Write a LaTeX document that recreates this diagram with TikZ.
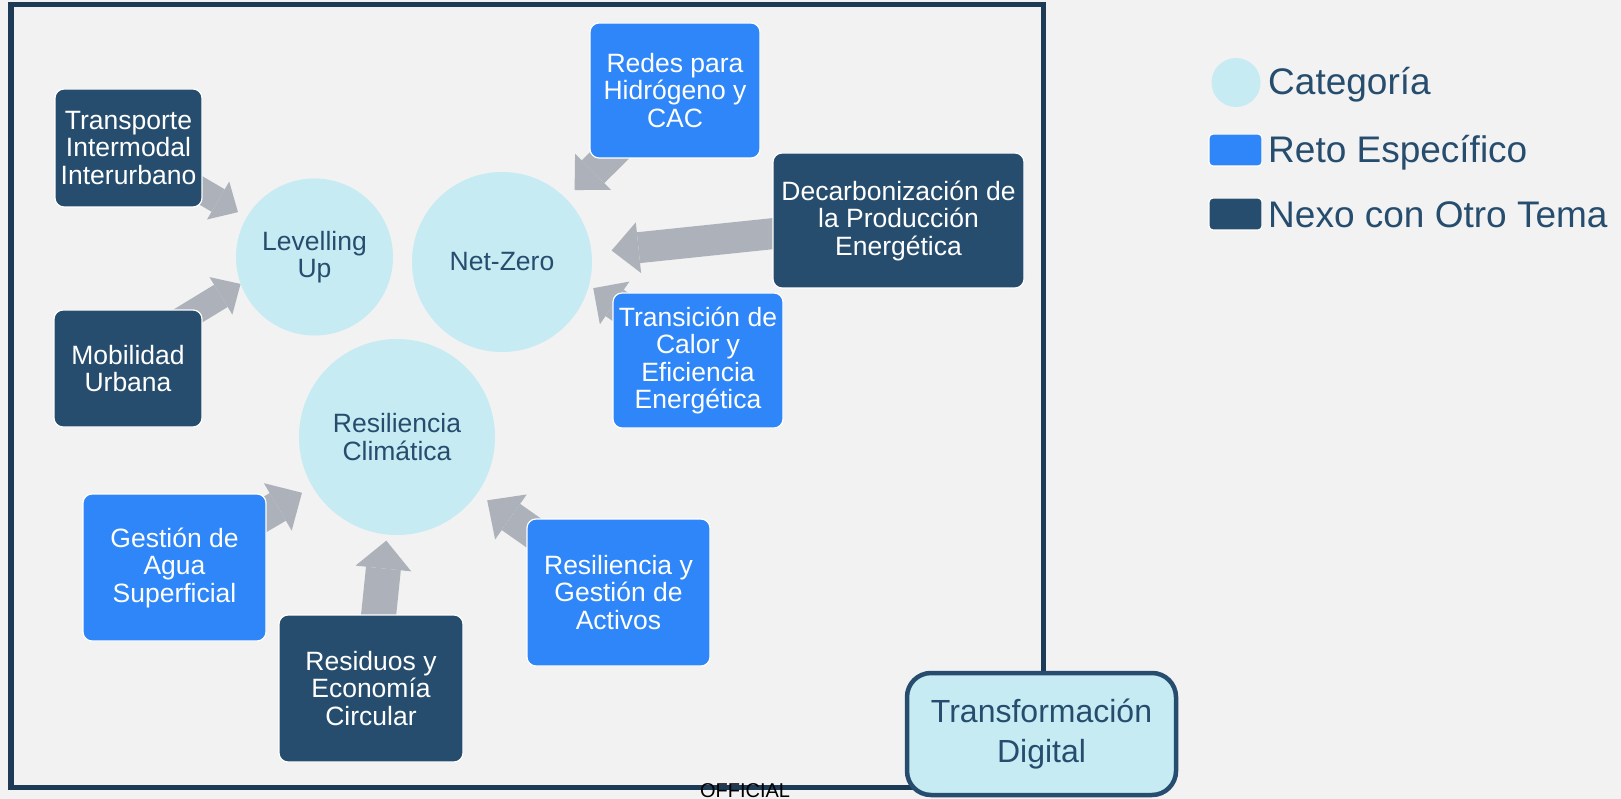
\documentclass[tikz,border=0pt]{standalone}
\usepackage{fontspec}
\setmainfont{Liberation Sans}
\usetikzlibrary{arrows.meta,backgrounds}

\definecolor{fondo}{HTML}{F2F2F2}
\definecolor{marco}{HTML}{1D3A57}
\definecolor{nexoazul}{HTML}{264D6E}
\definecolor{retoazul}{HTML}{2E86F8}
\definecolor{catcel}{HTML}{C6EBF3}
\definecolor{flechagris}{HTML}{ADB2BA}

\newcommand{\cajafont}{\fontsize{26.5}{27.5}\selectfont}
\newcommand{\leyfont}{\fontsize{37}{40}\selectfont}

\tikzset{
	caja/.style={rectangle, rounded corners=9pt, draw=white, line width=1.2pt, text=white, align=center, font=\cajafont, inner sep=0pt},
	reto/.style={caja, fill=retoazul},
	nexo/.style={caja, fill=nexoazul},
	categoria/.style={circle, fill=catcel, text=nexoazul, align=center, font=\cajafont, inner sep=0pt},
	leyenda/.style={text=nexoazul, font=\leyfont, inner sep=0pt, anchor=base west},
	flecha/.style n args={3}{draw=flechagris, line width=#1, -{Triangle[length=#2, width=#3, line width=0pt]}}
}

\begin{document}
\begin{tikzpicture}[x=1pt, y=-1pt]
		\useasboundingbox (0,0) rectangle (1621,799);
		\draw[marco, line width=5.5pt] (11,4.5) rectangle (1043.5,787.5);

		% categorias
		\node[categoria, minimum size=157pt] (lev) at (314.5,257) {Levelling\\Up};
		\node[categoria, minimum size=180pt] (nz) at (502,262) {Net-Zero};
		\node[categoria, minimum size=196pt] (rc) at (397,437) {Resiliencia\\Climática};

		% retos y nexos
		\node[nexo, minimum width=147pt, minimum height=118pt] (trans) at (128.5,148) {Transporte\\Intermodal\\Interurbano};
		\node[nexo, minimum width=148pt, minimum height=117pt] (mob) at (128,368.5) {Mobilidad\\Urbana};
		\node[reto, minimum width=170pt, minimum height=135pt] (redes) at (675,90.5) {Redes para\\Hidrógeno y\\CAC};
		\node[nexo, minimum width=251pt, minimum height=135pt] (decarb) at (898.5,220.5) {Decarbonización de\\la Producción\\Energética};
		\node[reto, minimum width=170pt, minimum height=135pt] (transicion) at (698,360.5) {Transición de\\Calor y\\Eficiencia\\Energética};
		\node[reto, minimum width=183pt, minimum height=147pt] (agua) at (174.5,567.5) {Gestión de\\Agua\\Superficial};
		\node[nexo, minimum width=184pt, minimum height=147pt] (residuos) at (371,688.5) {Residuos y\\Economía\\Circular};
		\node[reto, minimum width=183pt, minimum height=147pt] (activos) at (618.5,592.5) {Resiliencia y\\Gestión de\\Activos};

		\node[draw=nexoazul, line width=4.5pt, fill=catcel, rounded corners=24pt, minimum width=269pt, minimum height=122pt,
			align=center, text=nexoazul, font=\fontsize{32}{40}\selectfont] (digital) at (1041.5,734) {Transformación\\Digital};

		% leyenda
		\node[categoria, minimum size=49pt] (leycat) at (1236,82.5) {};
		\node[leyenda] (leycattxt) at (1268,95) {Categoría};
		\node[reto, rounded corners=4pt, minimum width=53pt, minimum height=32pt] (leyreto) at (1235.5,150) {};
		\node[leyenda] (leyretotxt) at (1268,163) {Reto Específico};
		\node[nexo, rounded corners=4pt, minimum width=53pt, minimum height=32pt] (leynexo) at (1235.5,214) {};
		\node[leyenda] (leynexotxt) at (1268,228) {Nexo con Otro Tema};

		\node[font=\fontsize{20}{24}\selectfont, anchor=base, inner sep=0pt] (oficial) at (745,797) {OFFICIAL};

		\begin{scope}[on background layer]
			\fill[fondo] (0,0) rectangle (1621,799);
			\draw[flecha={26pt}{23pt}{44pt}, shorten >=10pt] (trans.center) -- (lev);
			\draw[flecha={26pt}{23pt}{44pt}] ([yshift=16pt]mob.center) -- (lev.200);
			\draw[flecha={32pt}{26pt}{51pt}, shorten >=12pt] (redes.center) -- (nz);
			\draw[flecha={31pt}{27pt}{51pt}, shorten >=20pt] (decarb.center) -- (nz.6);
			\draw[flecha={32pt}{26pt}{52pt}, shorten >=5pt] (transicion.center) -- (nz.-15);
			\draw[flecha={32pt}{28pt}{55pt}, shorten >=12pt] (agua.center) -- (rc);
			\draw[flecha={32pt}{29pt}{55pt}, shorten >=12pt] (activos.center) -- (rc);
			\draw[flecha={35pt}{28pt}{56pt}, shorten >=6pt] (residuos.center) -- (rc);
		\end{scope}
	\end{tikzpicture}
\end{document}
